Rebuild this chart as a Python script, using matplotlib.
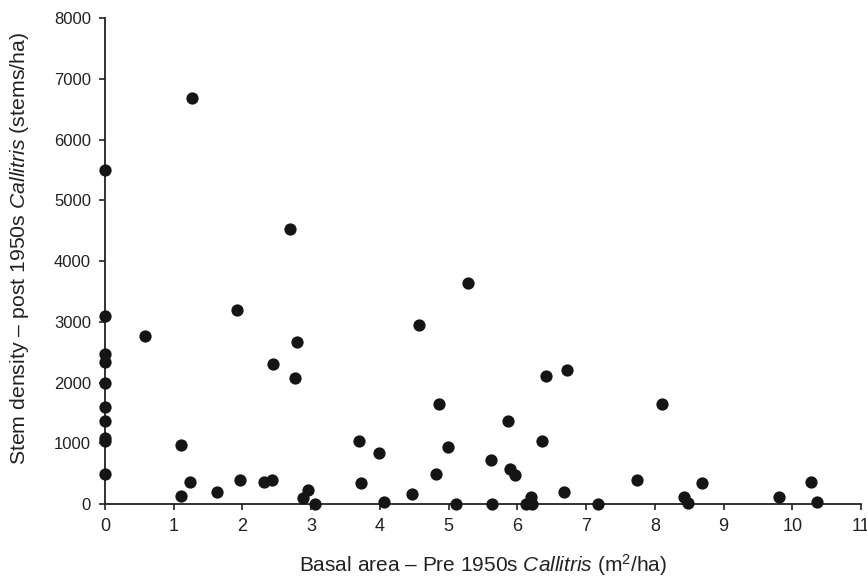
import matplotlib
matplotlib.use('Agg')
import matplotlib.pyplot as plt
import numpy as np

plt.rcParams['font.family'] = ['Liberation Sans', 'DejaVu Sans']
plt.rcParams['mathtext.fontset'] = 'custom'
plt.rcParams['mathtext.rm'] = 'Liberation Sans'
plt.rcParams['mathtext.it'] = 'Liberation Sans:italic'

# basal area of pre-1950s Callitris (m2/ha) vs stem density post-1950s (stems/ha)
basal_area = [0, 0, 0, 0, 0, 0, 0, 0, 0, 0,
              0.58, 1.11, 1.11, 1.24, 1.26, 1.63, 1.92, 1.96, 2.31, 2.43,
              2.44, 2.69, 2.77, 2.80, 2.88, 2.96, 3.06, 3.69, 3.72, 3.98,
              4.06, 4.47, 4.57, 4.81, 4.86, 4.99, 5.11, 5.28, 5.62, 5.63,
              5.87, 5.89, 5.97, 6.13, 6.20, 6.21, 6.36, 6.41, 6.68, 6.72,
              7.18, 7.74, 8.11, 8.43, 8.48, 8.69, 9.81, 10.27, 10.36]
stem_density = [5500, 3100, 2470, 2330, 2000, 1600, 1360, 1080, 1040, 500,
                2770, 970, 130, 370, 6680, 200, 3200, 390, 370, 390,
                2300, 4530, 2070, 2670, 100, 230, 5, 1030, 340, 840,
                40, 170, 2940, 500, 1640, 940, 5, 3640, 730, 5,
                1370, 570, 470, 5, 110, 5, 1030, 2110, 200, 2200,
                5, 400, 1640, 110, 10, 340, 110, 370, 40]

xticks = np.arange(0, 12, 1)
yticks = np.arange(0, 9000, 1000)

fig = plt.figure(figsize=(8.67, 5.77), dpi=100)
ax = fig.add_axes([0.1211, 0.1265, 0.8720, 0.8423])

ax.scatter(basal_area, stem_density, s=78, color='#151515', zorder=3,
           clip_on=False, linewidths=0)

ax.set_xlim(0, 11)
ax.set_ylim(0, 8000)
ax.set_xticks(xticks)
ax.set_yticks(yticks)
for side in ['top', 'right']:
    ax.spines[side].set_visible(False)
for side in ['left', 'bottom']:
    ax.spines[side].set_linewidth(1.3)
    ax.spines[side].set_color('#222222')
ax.tick_params(direction='out', length=4, width=1.2, color='#222222',
               labelsize=12, labelcolor='#222222', pad=6)
for lab in ax.get_xticklabels():
    lab.set_fontsize(13)

ax.set_xlabel(r'Basal area – Pre 1950s $\it{Callitris}$ (m$^{2}$/ha)',
              fontsize=15, color='#222222')
ax.set_ylabel(r'Stem density – post 1950s $\it{Callitris}$ (stems/ha)',
              fontsize=15.3, color='#222222')
ax.xaxis.set_label_coords(0.5, -0.098)
ax.yaxis.set_label_coords(-0.098, 0.525)

fig.savefig('out.png', dpi=100)
